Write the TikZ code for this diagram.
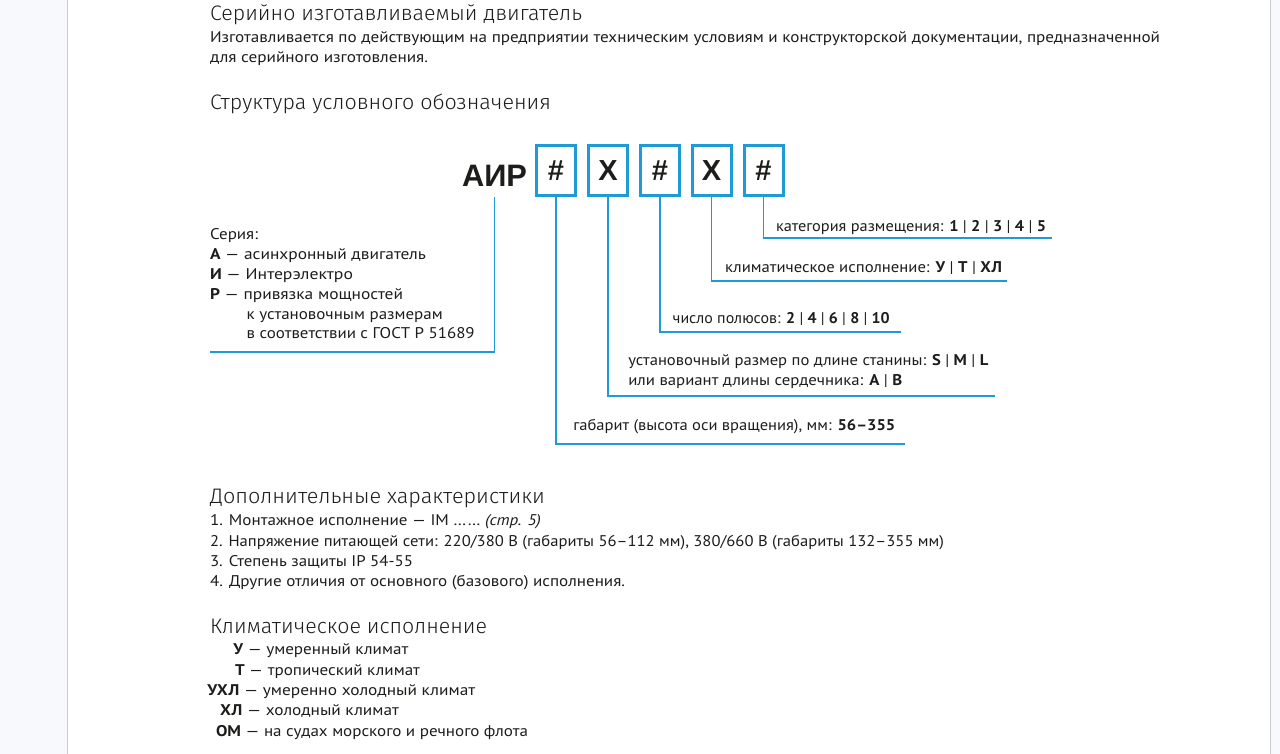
\documentclass[tikz,border=0pt]{standalone}
\usepackage{fontspec}
\usepackage{graphicx}
\setmainfont{PT Sans}
\IfFontExistsTF{Fira Sans Light}{\newfontfamily\hfont{Fira Sans Light}}{\newfontfamily\hfont{Fira Sans}}
\newfontfamily\lfont{Liberation Sans}
\definecolor{ink}{HTML}{1D1D1B}
\definecolor{acc}{HTML}{1E9AD6}
\definecolor{outbg}{HTML}{F7F9FC}
\definecolor{edge}{HTML}{C9CDD2}
\newcommand\fw[2]{\resizebox{#1pt}{\height}{#2}}
\tikzset{
  txt/.style={anchor=base west, inner sep=0pt, outer sep=0pt, text=ink, font=\fontsize{15.5}{18}\selectfont},
  head/.style={txt, font=\hfont\fontsize{21}{24}\selectfont},
  codebox/.style={draw=acc, line width=3pt, minimum width=39pt, minimum height=50pt, inner sep=0pt, text=ink, font=\lfont\bfseries\fontsize{29}{30}\selectfont},
  lead/.style={draw=acc, line width=1.6pt},
}
\begin{document}
\begin{tikzpicture}[x=1pt,y=-1pt]
\useasboundingbox (0,0) rectangle (1280,754);
\fill[outbg] (0,0) rectangle (1280,754);
\fill[white] (67,0) rectangle (1270,754);
\draw[edge, line width=0.8pt] (67,0) -- (67,754);
\draw[edge, line width=0.8pt] (1270,0) -- (1270,754);

% section 1
\node[head] (h1) at (210,20.7) {\fw{372}{Серийно изготавливаемый двигатель}};
\node[txt] (p1) at (210,42.7) {\fw{950}{Изготавливается по действующим на предприятии техническим условиям и конструкторской документации, предназначенной}};
\node[txt] (p2) at (210,62.5) {\fw{218}{для серийного изготовления.}};

% section 2
\node[head] (h2) at (210,110) {\fw{341}{Структура условного обозначения}};
\node[txt, font=\lfont\bfseries\fontsize{31}{32}\selectfont] (air) at (462,187) {\fw{65}{АИР}};
\node[codebox] (b1) at (556,170.3) {\#};
\node[codebox] (b2) at (608,170.3) {X};
\node[codebox] (b3) at (660,170.3) {\#};
\node[codebox] (b4) at (711.5,170.3) {X};
\node[codebox] (b5) at (763.5,170.3) {\#};

\coordinate (e0) at (210,352);
\coordinate (e1) at (905,444);
\coordinate (e2) at (995,396);
\coordinate (e3) at (901,332);
\coordinate (e4) at (1007,281);
\coordinate (e5) at (1052,238);

\draw[lead] (air.south |- b1.south) |- (e0);
\draw[lead] (b1.south) |- (e1);
\draw[lead] (b2.south) |- (e2);
\draw[lead] (b3.south) |- (e3);
\draw[lead] (b4.south) |- (e4);
\draw[lead] (b5.south) |- (e5);

\node[txt] (l5) at (776,231) {\fw{270}{категория размещения: \textbf{1} | \textbf{2} | \textbf{3} | \textbf{4} | \textbf{5}}};
\node[txt] (l4) at (725,272.7) {\fw{277}{климатическое исполнение: \textbf{У} | \textbf{Т} | \textbf{ХЛ}}};
\node[txt] (l3) at (672.7,323) {\fw{217}{число полюсов: \textbf{2} | \textbf{4} | \textbf{6} | \textbf{8} | \textbf{10}}};
\node[txt] (l2a) at (628.3,365) {\fw{360}{установочный размер по длине станины: \textbf{S} | \textbf{M} | \textbf{L}}};
\node[txt] (l2b) at (628.3,385.3) {\fw{274}{или вариант длины сердечника: \textbf{A} | \textbf{B}}};
\node[txt] (l1) at (573.3,430) {\fw{322}{габарит (высота оси вращения), мм: \textbf{56–355}}};

\node[txt] (s0) at (210,239.5) {\fw{48}{Серия:}};
\node[txt] (s1) at (210,259.5) {\fw{216}{\textbf{А} — асинхронный двигатель}};
\node[txt] (s2) at (210,279.5) {\fw{143}{\textbf{И} — Интерэлектро}};
\node[txt] (s3) at (210,299.3) {\fw{193}{\textbf{Р} — привязка мощностей}};
\node[txt] (s4) at (246.7,319) {\fw{196}{к установочным размерам}};
\node[txt] (s5) at (246.7,338.8) {\fw{228}{в соответствии с ГОСТ Р 51689}};

% section 3
\node[head] (h3) at (210,503.5) {\fw{335}{Дополнительные характеристики}};
\node[txt] (d1) at (210,525) {\fw{331}{1. Монтажное исполнение — IM …… \textit{(стр. 5)}}};
\node[txt] (d2) at (210,546) {\fw{734}{2. Напряжение питающей сети: 220/380 В (габариты 56–112 мм), 380/660 В (габариты 132–355 мм)}};
\node[txt] (d3) at (210,566) {\fw{203}{3. Степень защиты IP 54-55}};
\node[txt] (d4) at (210,586) {\fw{415}{4. Другие отличия от основного (базового) исполнения.}};

% section 4
\node[head] (h4) at (210,633) {\fw{277}{Климатическое исполнение}};
\node[txt] (c1) at (233.3,654.3) {\fw{175}{\textbf{У} — умеренный климат}};
\node[txt] (c2) at (235,675) {\fw{185}{\textbf{Т} — тропический климат}};
\node[txt] (c3) at (207.3,695.7) {\fw{268}{\textbf{УХЛ} — умеренно холодный климат}};
\node[txt] (c4) at (220,715.7) {\fw{179}{\textbf{ХЛ} — холодный климат}};
\node[txt] (c5) at (216,736.7) {\fw{312}{\textbf{ОМ} — на судах морского и речного флота}};
\end{tikzpicture}
\end{document}
